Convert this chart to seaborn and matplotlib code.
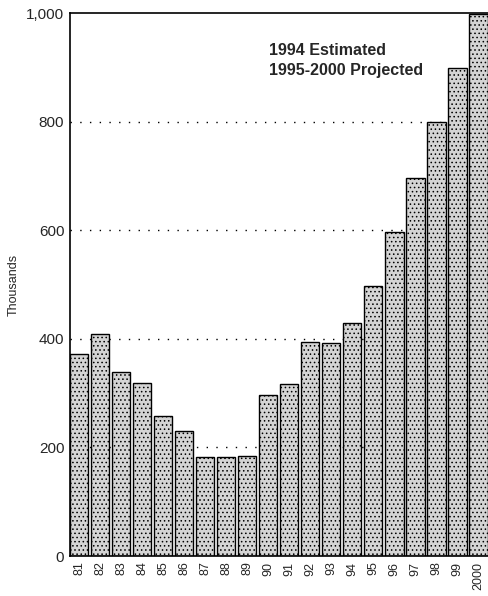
import matplotlib
matplotlib.use("Agg")
import matplotlib.pyplot as plt
import seaborn as sns
import pandas as pd

years = ["81", "82", "83", "84", "85", "86", "87", "88", "89", "90",
         "91", "92", "93", "94", "95", "96", "97", "98", "99", "2000"]
thousands = [372, 409, 339, 319, 258, 230, 182, 182, 184, 296,
             317, 394, 392, 429, 497, 597, 696, 799, 899, 998]
y_ticks = [0, 200, 400, 600, 800, 1000]
y_tick_labels = ["0", "200", "400", "600", "800", "1,000"]
note = "1994 Estimated\n1995-2000 Projected"

sns.set_style("white")
plt.rcParams["font.family"] = ["Liberation Sans", "DejaVu Sans"]
plt.rcParams["hatch.color"] = "#6e6e6e"
plt.rcParams["hatch.linewidth"] = 0.6

df = pd.DataFrame({"year": years, "value": thousands})

fig = plt.figure(figsize=(4.89, 5.96), dpi=100)
ax = fig.add_axes([0.143, 0.067, 0.857, 0.911])

# dotted reference lines sit behind the bars
for y in y_ticks[1:-1]:
    ax.axhline(y, color="black", linestyle=(0, (1, 6)), linewidth=1.0, zorder=0)

sns.barplot(data=df, x="year", y="value", color="#d4d4d4", width=0.86,
            edgecolor="black", linewidth=1.0, hatch="....", ax=ax, zorder=2)

ax.set_xlim(-0.45, 19.5)
ax.set_ylim(0, 1000)
ax.set_yticks(y_ticks)
ax.set_yticklabels(y_tick_labels, fontsize=11)
ax.set_xticks(range(len(years)))
ax.set_xticklabels(years, rotation=90, fontsize=9)
ax.tick_params(axis="both", length=0, pad=4)
ax.set_xlabel("")
ax.set_ylabel("Thousands", fontsize=9, labelpad=5)

for side in ["left", "bottom", "top"]:
    ax.spines[side].set_color("black")
    ax.spines[side].set_linewidth(1.2)
ax.spines["right"].set_visible(False)

ax.text(0.475, 0.945, note, transform=ax.transAxes, fontsize=11.5,
        fontweight="bold", va="top", ha="left", linespacing=1.45)

fig.savefig("out.png", dpi=100)
